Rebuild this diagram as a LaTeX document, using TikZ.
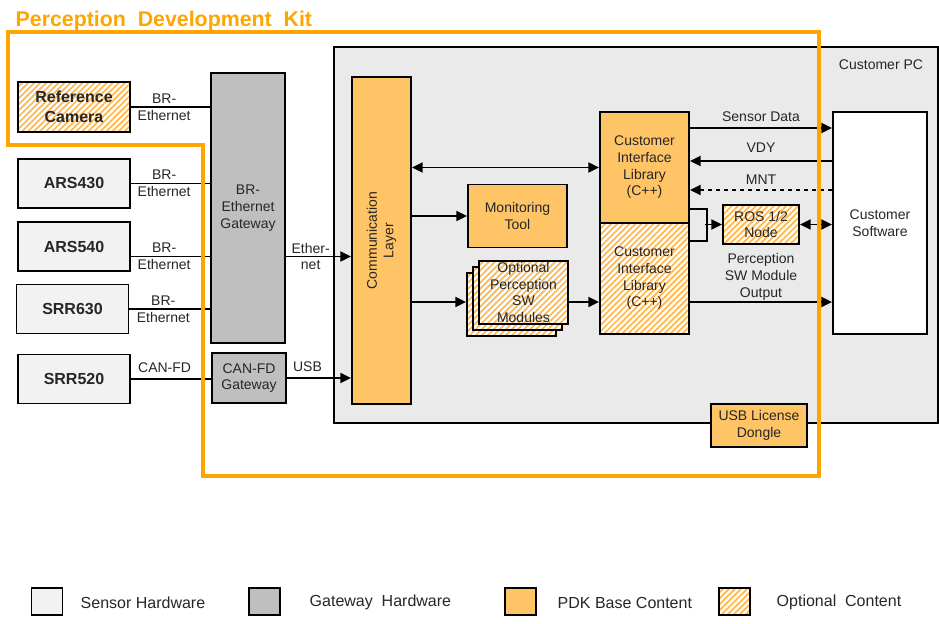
\documentclass[tikz,border=0pt]{standalone}
\usepackage{fontspec}
\setmainfont{Liberation Sans}
\usepackage{xcolor}
\usetikzlibrary{arrows.meta,positioning,patterns.meta}
\definecolor{pdkorange}{HTML}{FFA500}
\definecolor{basefill}{HTML}{FFC466}
\definecolor{hatchorange}{HTML}{FFB84D}
\definecolor{sensorgray}{HTML}{F2F2F2}
\definecolor{gatewaygray}{HTML}{BFBFBF}
\definecolor{pcgray}{HTML}{EAEAEA}
\definecolor{textgray}{HTML}{262626}
\tikzset{
  every node/.style={font=\fontsize{10.5}{12.5}\selectfont,text=textgray},
  boxsize/.style 2 args={minimum width=#1*0.75pt,minimum height=#2*0.75pt},
  plainbox/.style={draw=black,line width=1.4pt,align=center,inner sep=0pt},
  hwbox/.style={plainbox,fill=sensorgray,font=\fontsize{12}{15}\selectfont\bfseries},
  gwbox/.style={plainbox,fill=gatewaygray},
  basebox/.style={plainbox,fill=basefill},
  optbox/.style={plainbox,preaction={fill=white},pattern={Lines[angle=45,distance=3.2pt,line width=1.3pt]},pattern color=hatchorange},
  pcbox/.style={draw=black,line width=1.4pt,fill=pcgray},
  swbox/.style={plainbox,fill=white},
  link/.style={line width=1.4pt},
  sigarrow/.style={link,-{Triangle[length=8pt,width=7.5pt]}},
  dblarrow/.style={link,{Triangle[length=8pt,width=7.5pt]}-{Triangle[length=8pt,width=7.5pt]}},
  pdkline/.style={pdkorange,line width=2.5pt},
  titletext/.style={font=\fontsize{16}{19}\selectfont\bfseries,text=pdkorange},
  legendtext/.style={font=\fontsize{12}{14}\selectfont}
}

\begin{document}
\begin{tikzpicture}[x=0.75pt,y=-0.75pt]
\useasboundingbox (0,0) rectangle (939,624);
\node[pcbox,boxsize={604}{376}] (pc) at (636,235) {};
\node (pclabel) at (881,65) {Customer PC};
\node[optbox,boxsize={112}{50},font=\fontsize{12}{15}\selectfont\bfseries] (refcam) at (74,107) {Reference\\Camera};
\foreach \name/\txt/\x/\y in {ars430/ARS430/74/183.5,ars540/ARS540/74/246.5,srr630/SRR630/72.5/309,srr520/SRR520/74/379}{\node[hwbox,boxsize={112}{49}] (\name) at (\x,\y) {\txt};}
\node[gwbox,boxsize={74}{270}] (brgw) at (248,208) {BR-\\Ethernet\\Gateway};
\node[gwbox,boxsize={74}{50}] (cangw) at (249,378) {CAN-FD\\Gateway};
\node[basebox,boxsize={59}{327}] (comm) at (381.5,240.5) {};
\node[rotate=90,align=center] (commlabel) at (comm) {Communication\\Layer};
\node[basebox,boxsize={99}{63}] (mon) at (517.5,216) {Monitoring\\Tool};
\node[optbox,boxsize={89}{63}] (modback) at (511.5,304.5) {};
\node[optbox,boxsize={89}{63}] (modmid) at (517.5,298.5) {};
\node[optbox,boxsize={89}{63}] (modfront) at (523.5,292.5) {Optional\\Perception\\SW\\Modules};
\node[basebox,boxsize={89}{111}] (cilbase) at (644.5,167.5) {Customer\\Interface\\Library\\(C++)};
\node[optbox,boxsize={89}{111},below=-1.4pt of cilbase] (ciloptional) {Customer\\Interface\\Library\\(C++)};
\node[swbox,boxsize={94}{222}] (sw) at (880,223) {Customer\\Software};
\node[optbox,boxsize={76}{39}] (ros) at (761,224.5) {ROS 1/2\\Node};
\node[basebox,boxsize={96}{43}] (dongle) at (759,425.5) {USB License\\Dongle};
\foreach \s in {refcam,ars430,srr630}{\draw[link] (\s.east) -- (\s.east -| brgw.west) node[pos=0.42,align=center]{BR-\\Ethernet};}
\coordinate (ethrow) at ([yshift=-7.5pt]ars540.east);
\draw[link] (ethrow) -- (ethrow -| brgw.west) node[pos=0.42,align=center]{BR-\\Ethernet};
\draw[link] (srr520.east) -- (srr520.east -| cangw.west) node[pos=0.42,above=1pt]{CAN-FD};
\draw[sigarrow] (ethrow -| brgw.east) -- (ethrow -| comm.west) node[pos=0.38,align=center]{Ether-\\net};
\draw[sigarrow] (cangw.east) -- (cangw.east -| comm.west) node[pos=0.32,above=1pt]{USB};
\draw[dblarrow] (comm.east |- cilbase) -- (cilbase.west);
\draw[sigarrow] (comm.east |- mon) -- (mon.west);
\coordinate (outrow) at (0,302);
\draw[sigarrow] (comm.east |- outrow) -- (modback.west |- outrow);
\draw[sigarrow] (modfront.east |- outrow) -- (ciloptional.west |- outrow);
\draw[sigarrow] (ciloptional.east |- outrow) -- (sw.west |- outrow) node[midway,above=-2.5pt,align=center]{Perception\\SW Module\\Output};
\coordinate (sdrow) at (0,128);
\coordinate (vdyrow) at (0,161);
\coordinate (mntrow) at (0,190);
\draw[sigarrow] (cilbase.east |- sdrow) -- (sw.west |- sdrow) node[midway,above=1pt]{Sensor Data};
\draw[sigarrow] (sw.west |- vdyrow) -- (cilbase.east |- vdyrow) node[midway,above=2pt]{VDY};
\draw[sigarrow,dashed] (sw.west |- mntrow) -- (cilbase.east |- mntrow) node[midway,above=0pt]{MNT};
\draw[link] (cilbase.east |- 0,209) -- ++(17,0) |- (cilbase.east |- 0,241);
\draw[sigarrow] ([xshift=-12.75pt]ros.west) -- (ros.west);
\draw[dblarrow] (ros.east) -- (ros.east -| sw.west);
\draw[pdkline] (8,32) -- (819,32) -- (819,476) -- (203,476) -- (203,145) -- (8,145) -- cycle;
\node[titletext,anchor=base west] (title) at (11,27) {Perception\ \ Development\ \ Kit};
\foreach \st/\bx/\tx/\lab [count=\i] in {hwbox/47/76/Sensor Hardware,gwbox/264.5/305/Gateway\ \ Hardware,basebox/520.5/553/PDK Base Content,optbox/734.5/772/Optional\ \ Content}{
  \node[style=\st,boxsize={31}{27}] (key\i) at (\bx,601.5) {};
  \node[legendtext,anchor=west] (keytext\i) at (\tx,602.5) {\lab};}
\end{tikzpicture}
\end{document}
